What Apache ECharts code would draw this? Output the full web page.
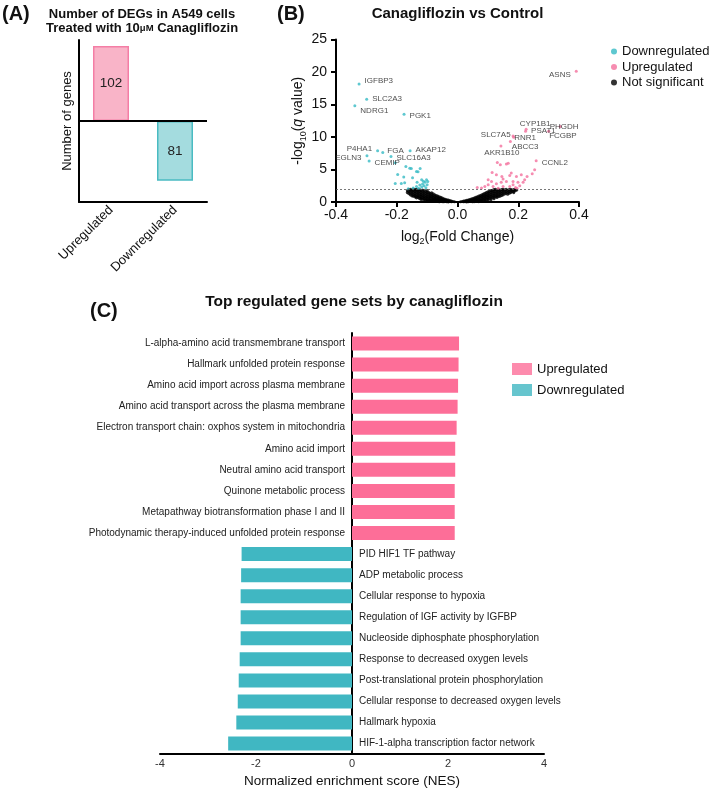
<!DOCTYPE html>
<html>
<head>
<meta charset="utf-8">
<script src="https://cdn.jsdelivr.net/npm/echarts@6/dist/echarts.min.js"></script>
<style>
  html, body { margin: 0; padding: 0; background: #fff; }
  #main { width: 709px; height: 793px; }
</style>
</head>
<body>
<div id="main"></div>
<script>
// (A) number of DEGs
const degCats = ['Upregulated', 'Downregulated']
const degCounts = [102, -81]
const degLabels = ['102', '81']

// (B) volcano plot
const bXTicks = [-0.4, -0.2, 0.0, 0.2, 0.4]
const bYTicks = [0, 5, 10, 15, 20, 25]
const qThreshold = 2

const downGenes = ['IGFBP3', 'SLC2A3', 'NDRG1', 'PGK1', 'P4HA1', 'FGA', 'AKAP12', 'EGLN3', 'CEMIP', 'SLC16A3']
const downGenePts = [[-0.324, 18.15], [-0.299, 15.8], [-0.338, 14.8], [-0.176, 13.5], [-0.263, 7.9],
  [-0.246, 7.6], [-0.156, 7.9], [-0.298, 7.1], [-0.291, 6.3], [-0.219, 7.0]]
const upGenes = ['ASNS', 'CYP1B1', 'PSAT1', 'PHGDH', 'FCGBP', 'SLC7A5', 'RNR1', 'ABCC3', 'AKR1B10', 'CCNL2']
const upGenePts = [[0.391, 20.1], [0.226, 11.2], [0.224, 10.9], [0.338, 11.6], [0.30, 10.9],
  [0.183, 10.15], [0.185, 9.95], [0.174, 9.3], [0.143, 8.6], [0.259, 6.34]]

const downPts = [[-0.205, 6.05], [-0.170, 5.47], [-0.152, 5.16], [-0.135, 4.70], [-0.123, 5.16],
  [-0.197, 4.24], [-0.177, 3.83], [-0.148, 3.73], [-0.205, 2.86], [-0.174, 2.97], [-0.133, 3.02],
  [-0.118, 3.43], [-0.115, 2.76], [-0.107, 3.02], [-0.102, 3.43], [-0.098, 3.17], [-0.124, 2.61],
  [-0.135, 2.40], [-0.146, 2.15], [-0.162, 2.05], [-0.110, 2.51], [-0.100, 2.66], [-0.118, 2.30],
  [-0.185, 2.83], [-0.157, 5.18], [-0.130, 4.66], [-0.104, 2.2], [-0.112, 3.2], [-0.128, 2.1]]

const upPts = [[0.131, 6.08], [0.141, 5.73], [0.161, 5.83], [0.167, 5.98], [0.114, 4.55], [0.128, 4.19],
  [0.146, 3.94], [0.172, 4.09], [0.177, 4.45], [0.194, 3.94], [0.210, 4.19], [0.216, 3.02],
  [0.199, 3.02], [0.183, 3.17], [0.161, 3.17], [0.144, 3.02], [0.128, 2.81], [0.112, 3.17],
  [0.101, 2.66], [0.090, 2.40], [0.079, 2.15], [0.117, 2.40], [0.150, 2.40], [0.172, 2.40],
  [0.191, 2.25], [0.221, 3.43], [0.229, 3.94], [0.246, 4.35], [0.254, 4.96], [0.101, 3.43],
  [0.150, 3.53], [0.183, 2.66], [0.205, 2.51], [0.065, 2.25], [0.134, 2.1], [0.196, 2.1]]

const nsPoints = [
  [-0.165, 1.75], [-0.165, 1.45],
  [-0.16, 1.9], [-0.16, 1.6], [-0.16, 1.3],
  [-0.155, 1.95], [-0.155, 1.7], [-0.155, 1.4], [-0.155, 1.1],
  [-0.15, 1.85], [-0.15, 1.55], [-0.15, 1.25], [-0.15, 0.95],
  [-0.145, 2.0], [-0.145, 1.75], [-0.145, 1.45], [-0.145, 1.15], [-0.145, 0.9],
  [-0.14, 1.9], [-0.14, 1.6], [-0.14, 1.3], [-0.14, 1.0], [-0.14, 0.8],
  [-0.135, 1.95], [-0.135, 1.7], [-0.135, 1.4], [-0.135, 1.1], [-0.135, 0.85], [-0.135, 0.65],
  [-0.13, 1.85], [-0.13, 1.55], [-0.13, 1.25], [-0.13, 0.95], [-0.13, 0.7],
  [-0.125, 1.9], [-0.125, 1.65], [-0.125, 1.35], [-0.125, 1.05], [-0.125, 0.8], [-0.125, 0.55],
  [-0.12, 1.75], [-0.12, 1.45], [-0.12, 1.15], [-0.12, 0.9], [-0.12, 0.6], [-0.12, 0.4],
  [-0.115, 1.85], [-0.115, 1.55], [-0.115, 1.25], [-0.115, 0.95], [-0.115, 0.7], [-0.115, 0.45],
  [-0.11, 1.7], [-0.11, 1.4], [-0.11, 1.1], [-0.11, 0.8], [-0.11, 0.55], [-0.11, 0.3],
  [-0.105, 1.6], [-0.105, 1.3], [-0.105, 1.0], [-0.105, 0.75], [-0.105, 0.5], [-0.105, 0.25],
  [-0.1, 1.75], [-0.1, 1.45], [-0.1, 1.15], [-0.1, 0.85], [-0.1, 0.6], [-0.1, 0.35], [-0.1, 0.15],
  [-0.095, 1.5], [-0.095, 1.2], [-0.095, 0.9], [-0.095, 0.65], [-0.095, 0.4], [-0.095, 0.2],
  [-0.09, 1.35], [-0.09, 1.05], [-0.09, 0.8], [-0.09, 0.55], [-0.09, 0.3], [-0.09, 0.1],
  [-0.085, 1.4], [-0.085, 1.1], [-0.085, 0.85], [-0.085, 0.6], [-0.085, 0.35], [-0.085, 0.15],
  [-0.08, 1.25], [-0.08, 0.95], [-0.08, 0.7], [-0.08, 0.45], [-0.08, 0.25], [-0.08, 0.08],
  [-0.075, 1.1], [-0.075, 0.85], [-0.075, 0.6], [-0.075, 0.4], [-0.075, 0.2],
  [-0.07, 1.0], [-0.07, 0.75], [-0.07, 0.5], [-0.07, 0.3], [-0.07, 0.12],
  [-0.065, 0.9], [-0.065, 0.65], [-0.065, 0.45], [-0.065, 0.25], [-0.065, 0.08],
  [-0.06, 0.8], [-0.06, 0.55], [-0.06, 0.35], [-0.06, 0.18], [-0.06, 0.05],
  [-0.055, 0.7], [-0.055, 0.5], [-0.055, 0.3], [-0.055, 0.12],
  [-0.05, 0.6], [-0.05, 0.4], [-0.05, 0.22], [-0.05, 0.07],
  [-0.045, 0.5], [-0.045, 0.32], [-0.045, 0.15], [-0.045, 0.04],
  [-0.04, 0.42], [-0.04, 0.25], [-0.04, 0.1],
  [-0.035, 0.35], [-0.035, 0.18], [-0.035, 0.05],
  [-0.03, 0.28], [-0.03, 0.12], [-0.03, 0.03],
  [-0.025, 0.2], [-0.025, 0.08],
  [-0.02, 0.14], [-0.02, 0.04],
  [-0.015, 0.08], [-0.01, 0.04],
  [0.01, 0.04], [0.015, 0.08],
  [0.02, 0.13], [0.02, 0.04],
  [0.025, 0.18], [0.025, 0.07],
  [0.03, 0.24], [0.03, 0.1], [0.03, 0.03],
  [0.035, 0.3], [0.035, 0.15], [0.035, 0.05],
  [0.04, 0.38], [0.04, 0.2], [0.04, 0.08],
  [0.045, 0.45], [0.045, 0.26], [0.045, 0.1],
  [0.05, 0.52], [0.05, 0.32], [0.05, 0.14], [0.05, 0.04],
  [0.055, 0.6], [0.055, 0.4], [0.055, 0.2], [0.055, 0.07],
  [0.06, 0.7], [0.06, 0.48], [0.06, 0.26], [0.06, 0.1],
  [0.065, 0.8], [0.065, 0.55], [0.065, 0.32], [0.065, 0.14],
  [0.07, 0.9], [0.07, 0.65], [0.07, 0.4], [0.07, 0.18], [0.07, 0.06],
  [0.075, 1.0], [0.075, 0.75], [0.075, 0.5], [0.075, 0.26], [0.075, 0.1],
  [0.08, 1.1], [0.08, 0.85], [0.08, 0.6], [0.08, 0.35], [0.08, 0.15],
  [0.085, 1.2], [0.085, 0.95], [0.085, 0.7], [0.085, 0.45], [0.085, 0.22],
  [0.09, 1.35], [0.09, 1.05], [0.09, 0.8], [0.09, 0.55], [0.09, 0.3], [0.09, 0.1],
  [0.095, 1.45], [0.095, 1.15], [0.095, 0.9], [0.095, 0.62], [0.095, 0.38],
  [0.1, 1.55], [0.1, 1.25], [0.1, 0.95], [0.1, 0.7], [0.1, 0.45], [0.1, 0.2],
  [0.105, 1.65], [0.105, 1.35], [0.105, 1.05], [0.105, 0.8], [0.105, 0.52],
  [0.11, 1.75], [0.11, 1.45], [0.11, 1.15], [0.11, 0.88], [0.11, 0.6], [0.11, 0.35],
  [0.115, 1.8], [0.115, 1.55], [0.115, 1.25], [0.115, 0.95], [0.115, 0.68],
  [0.12, 1.9], [0.12, 1.6], [0.12, 1.3], [0.12, 1.0], [0.12, 0.75], [0.12, 0.5],
  [0.125, 1.95], [0.125, 1.65], [0.125, 1.35], [0.125, 1.05], [0.125, 0.8],
  [0.13, 1.85], [0.13, 1.55], [0.13, 1.25], [0.13, 0.95], [0.13, 0.7],
  [0.135, 1.95], [0.135, 1.7], [0.135, 1.4], [0.135, 1.1], [0.135, 0.85],
  [0.14, 1.8], [0.14, 1.5], [0.14, 1.2], [0.14, 0.9],
  [0.145, 1.9], [0.145, 1.6], [0.145, 1.3], [0.145, 1.0],
  [0.15, 1.95], [0.15, 1.7], [0.15, 1.4], [0.15, 1.1],
  [0.155, 1.85], [0.155, 1.55], [0.155, 1.25],
  [0.16, 1.95], [0.16, 1.65], [0.16, 1.35],
  [0.165, 1.8], [0.165, 1.5], [0.165, 1.2],
  [0.17, 1.9], [0.17, 1.6], [0.17, 1.35],
  [0.175, 1.95], [0.175, 1.7], [0.175, 1.45],
  [0.18, 1.85], [0.18, 1.6],
  [0.185, 1.9], [0.185, 1.65], [0.185, 1.45],
  [0.19, 1.95], [0.19, 1.75],
  [0.195, 1.85]
]

// (C) gene sets by NES
const upTerms = [
  'L-alpha-amino acid transmembrane transport',
  'Hallmark unfolded protein response',
  'Amino acid import across plasma membrane',
  'Amino acid transport across the plasma membrane',
  'Electron transport chain: oxphos system in mitochondria',
  'Amino acid import',
  'Neutral amino acid transport',
  'Quinone metabolic process',
  'Metapathway biotransformation phase I and II',
  'Photodynamic therapy-induced unfolded protein response'
]
const upNES = [2.23, 2.22, 2.21, 2.20, 2.18, 2.15, 2.15, 2.14, 2.14, 2.14]
const downTerms = [
  'PID HIF1 TF pathway',
  'ADP metabolic process',
  'Cellular response to hypoxia',
  'Regulation of IGF activity by IGFBP',
  'Nucleoside diphosphate phosphorylation',
  'Response to decreased oxygen levels',
  'Post-translational protein phosphorylation',
  'Cellular response to decreased oxygen levels',
  'Hallmark hypoxia',
  'HIF-1-alpha transcription factor network'
]
const downNES = [-2.30, -2.31, -2.32, -2.32, -2.32, -2.34, -2.36, -2.38, -2.41, -2.58]
const cXTicks = [-4, -2, 0, 2, 4]

// styles
const FONT = "'Liberation Sans', Arial, sans-serif"
const PINK = '#fd6e98'
const TEAL = '#40b7c2'
const DOT_PINK = '#f4719d'
const DOT_TEAL = '#36bac4'

// gene label placement: [position, dx, dy]
const geneLabelPos = {
  IGFBP3: ['right', 0, -3], SLC2A3: ['right', 0, -1], NDRG1: ['right', 0, 5], PGK1: ['right', 0, 2],
  P4HA1: ['left', 0, -2], FGA: ['right', -1, -2], AKAP12: ['right', 0, -1], EGLN3: ['left', 0, 2],
  CEMIP: ['right', 0, 2], SLC16A3: ['right', 0, 1],
  ASNS: ['left', 0, 3], CYP1B1: ['top', 9, 4], PSAT1: ['right', 0, 0], PHGDH: ['right', -16, 0],
  FCGBP: ['right', -5, 5], SLC7A5: ['left', 3, -1], RNR1: ['right', -5, 0], ABCC3: ['right', -4, 5],
  AKR1B10: ['bottom', 1, -3], CCNL2: ['right', 0, 2]
}

function geneData(names, pts) {
  return names.map((n, i) => {
    const p = geneLabelPos[n]
    return {
      name: n,
      value: pts[i],
      label: { show: true, formatter: n, position: p[0], offset: [p[1], p[2]], distance: 4 }
    }
  })
}

const cTerms = upTerms.concat(downTerms)
const cUp = upNES.concat(downTerms.map(() => '-'))
const cDown = upTerms.map(() => '-').concat(downNES)

const axisBlack = { show: true, lineStyle: { color: '#000', width: 2 } }

const chart = echarts.init(document.getElementById('main'), null, { renderer: 'canvas' })

const option = {
  animation: false,
  backgroundColor: '#fff',
  textStyle: { fontFamily: FONT },
  title: [
    { text: '(A)', left: 2, top: 4, padding: 0, textStyle: { fontSize: 20, fontWeight: 'bold', color: '#111', fontFamily: FONT } },
    {
      text: 'Number of DEGs in A549 cells\nTreated with 10{s|μM} Canagliflozin',
      left: 142, top: 7, padding: 0, textAlign: 'center',
      textStyle: {
        fontSize: 13, fontWeight: 'bold', color: '#111', lineHeight: 14, fontFamily: FONT,
        rich: { s: { fontSize: 9.5, fontWeight: 'bold', lineHeight: 14, fontFamily: FONT } }
      }
    },
    { text: '(B)', left: 277, top: 4, padding: 0, textStyle: { fontSize: 20, fontWeight: 'bold', color: '#111', fontFamily: FONT } },
    {
      text: 'Canagliflozin vs Control', left: 457.5, top: 6, padding: 0, textAlign: 'center',
      textStyle: { fontSize: 15, fontWeight: 'bold', color: '#111', fontFamily: FONT }
    },
    { text: '(C)', left: 90, top: 301, padding: 0, textStyle: { fontSize: 20, fontWeight: 'bold', color: '#111', fontFamily: FONT } },
    {
      text: 'Top regulated gene sets by canagliflozin', left: 354, top: 294, padding: 0, textAlign: 'center',
      textStyle: { fontSize: 15.5, fontWeight: 'bold', color: '#111', fontFamily: FONT }
    }
  ],
  legend: [
    {
      orient: 'vertical', left: 606, top: 40, itemWidth: 6, itemHeight: 6, itemGap: 2.5, icon: 'circle',
      selectedMode: false,
      textStyle: { fontSize: 13, color: '#111', lineHeight: 13, fontFamily: FONT },
      data: [
        { name: 'Downregulated', itemStyle: { color: DOT_TEAL } },
        { name: 'Upregulated', itemStyle: { color: DOT_PINK } },
        { name: 'Not significant', itemStyle: { color: '#000' } }
      ]
    },
    {
      orient: 'vertical', left: 507, top: 357.5, itemWidth: 20, itemHeight: 12, itemGap: 8, icon: 'rect',
      selectedMode: false,
      textStyle: { fontSize: 13, color: '#111', lineHeight: 13, fontFamily: FONT },
      data: [
        { name: 'Upregulated', itemStyle: { color: PINK } },
        { name: 'Downregulated', itemStyle: { color: TEAL } }
      ]
    }
  ],
  grid: [
    { left: 79, top: 40, width: 128, height: 162 },
    { left: 336, top: 39.5, width: 243, height: 162.5 },
    { left: 160, top: 333, width: 384, height: 424 }
  ],
  xAxis: [
    {
      gridIndex: 0, type: 'category', data: degCats,
      axisLine: { show: true, onZero: false, lineStyle: { color: '#000', width: 2 } },
      axisTick: { show: false },
      axisLabel: { rotate: 45, fontSize: 13, color: '#111', margin: 6, interval: 0 }
    },
    {
      gridIndex: 1, type: 'value', min: bXTicks[0], max: bXTicks[bXTicks.length - 1], interval: bXTicks[1] - bXTicks[0],
      axisLine: { show: true, onZero: false, lineStyle: { color: '#000', width: 2 } },
      axisTick: { show: true, length: 5, lineStyle: { color: '#000', width: 2 } },
      axisLabel: { fontSize: 14, color: '#111', margin: 6, formatter: v => v.toFixed(1) },
      splitLine: { show: false },
      name: 'log{sub|2}(Fold Change)', nameLocation: 'middle', nameGap: 26,
      nameTextStyle: {
        fontSize: 14, color: '#111', lineHeight: 18,
        rich: { sub: { fontSize: 9, verticalAlign: 'bottom', lineHeight: 18 } }
      }
    },
    {
      gridIndex: 2, type: 'value', min: cXTicks[0], max: cXTicks[cXTicks.length - 1], interval: cXTicks[1] - cXTicks[0],
      axisLine: { show: true, onZero: false, lineStyle: { color: '#000', width: 2 } },
      axisTick: { show: false },
      axisLabel: { fontSize: 11, color: '#333', margin: 4 },
      splitLine: { show: false },
      name: 'Normalized enrichment score (NES)', nameLocation: 'middle', nameGap: 19,
      nameTextStyle: { fontSize: 13.5, color: '#111' }
    }
  ],
  yAxis: [
    {
      gridIndex: 0, type: 'value', min: -110, max: 110,
      axisLine: axisBlack, axisTick: { show: false }, axisLabel: { show: false }, splitLine: { show: false },
      name: 'Number of genes', nameLocation: 'middle', nameGap: 5,
      nameTextStyle: { fontSize: 13, color: '#111' }
    },
    {
      gridIndex: 1, type: 'value', min: bYTicks[0], max: bYTicks[bYTicks.length - 1], interval: bYTicks[1] - bYTicks[0],
      axisLine: { show: true, onZero: false, lineStyle: { color: '#000', width: 2 } },
      axisTick: { show: true, length: 5, lineStyle: { color: '#000', width: 2 } },
      axisLabel: { fontSize: 14, color: '#111', margin: 9 },
      splitLine: { show: false },
      name: '-log{sub|10}({it|q} value)', nameLocation: 'middle', nameGap: 28,
      nameTextStyle: {
        fontSize: 14, color: '#111', lineHeight: 18,
        rich: {
          sub: { fontSize: 9, verticalAlign: 'bottom', lineHeight: 18 },
          it: { fontSize: 14, fontStyle: 'italic', lineHeight: 18 }
        }
      }
    },
    {
      gridIndex: 2, type: 'category', data: cTerms, inverse: true,
      axisLine: { show: true, onZero: true, lineStyle: { color: '#000', width: 2 } },
      axisTick: { show: false }, axisLabel: { show: false }
    }
  ],
  series: [
    {
      name: 'DEGs', type: 'bar', xAxisIndex: 0, yAxisIndex: 0, barWidth: 36,
      data: degCounts.map((v, i) => ({
        value: v,
        itemStyle: i === 0
          ? { color: '#f9b4c8', borderColor: '#f47ea5', borderWidth: 1.5 }
          : { color: '#a4dcdf', borderColor: '#4abbc2', borderWidth: 1.5 }
      })),
      label: { show: true, position: 'inside', fontSize: 13.5, color: '#222', formatter: p => degLabels[p.dataIndex] },
      markLine: {
        silent: true, symbol: ['none', 'none'], label: { show: false },
        lineStyle: { color: '#000', width: 2, type: 'solid' },
        data: [{ yAxis: 0 }]
      }
    },
    {
      name: 'Not significant', type: 'scatter', xAxisIndex: 1, yAxisIndex: 1,
      symbolSize: 3.2, itemStyle: { color: '#000' }, data: nsPoints,
      markLine: {
        silent: true, symbol: ['none', 'none'], label: { show: false },
        lineStyle: { color: '#555', width: 0.8, type: [2, 2] },
        data: [{ yAxis: qThreshold }]
      }
    },
    {
      name: 'Downregulated', type: 'scatter', xAxisIndex: 1, yAxisIndex: 1,
      symbolSize: 3, itemStyle: { color: DOT_TEAL },
      label: { fontSize: 8, color: '#222', fontFamily: FONT },
      data: downPts.concat(geneData(downGenes, downGenePts))
    },
    {
      name: 'Upregulated', type: 'scatter', xAxisIndex: 1, yAxisIndex: 1,
      symbolSize: 3, itemStyle: { color: DOT_PINK },
      label: { fontSize: 8, color: '#222', fontFamily: FONT },
      data: upPts.concat(geneData(upGenes, upGenePts))
    },
    {
      name: 'Upregulated', type: 'bar', xAxisIndex: 2, yAxisIndex: 2, barWidth: 14, barGap: '-100%',
      itemStyle: { color: PINK },
      label: { show: true, position: 'left', distance: 7, fontSize: 10, color: '#222', fontFamily: FONT, formatter: p => p.name },
      data: cUp
    },
    {
      name: 'Downregulated', type: 'bar', xAxisIndex: 2, yAxisIndex: 2, barWidth: 14, barGap: '-100%',
      itemStyle: { color: TEAL },
      label: { show: true, position: 'right', distance: 7, fontSize: 10, color: '#222', fontFamily: FONT, formatter: p => p.name },
      data: cDown
    }
  ]
}

chart.setOption(option)
</script>
</body>
</html>
